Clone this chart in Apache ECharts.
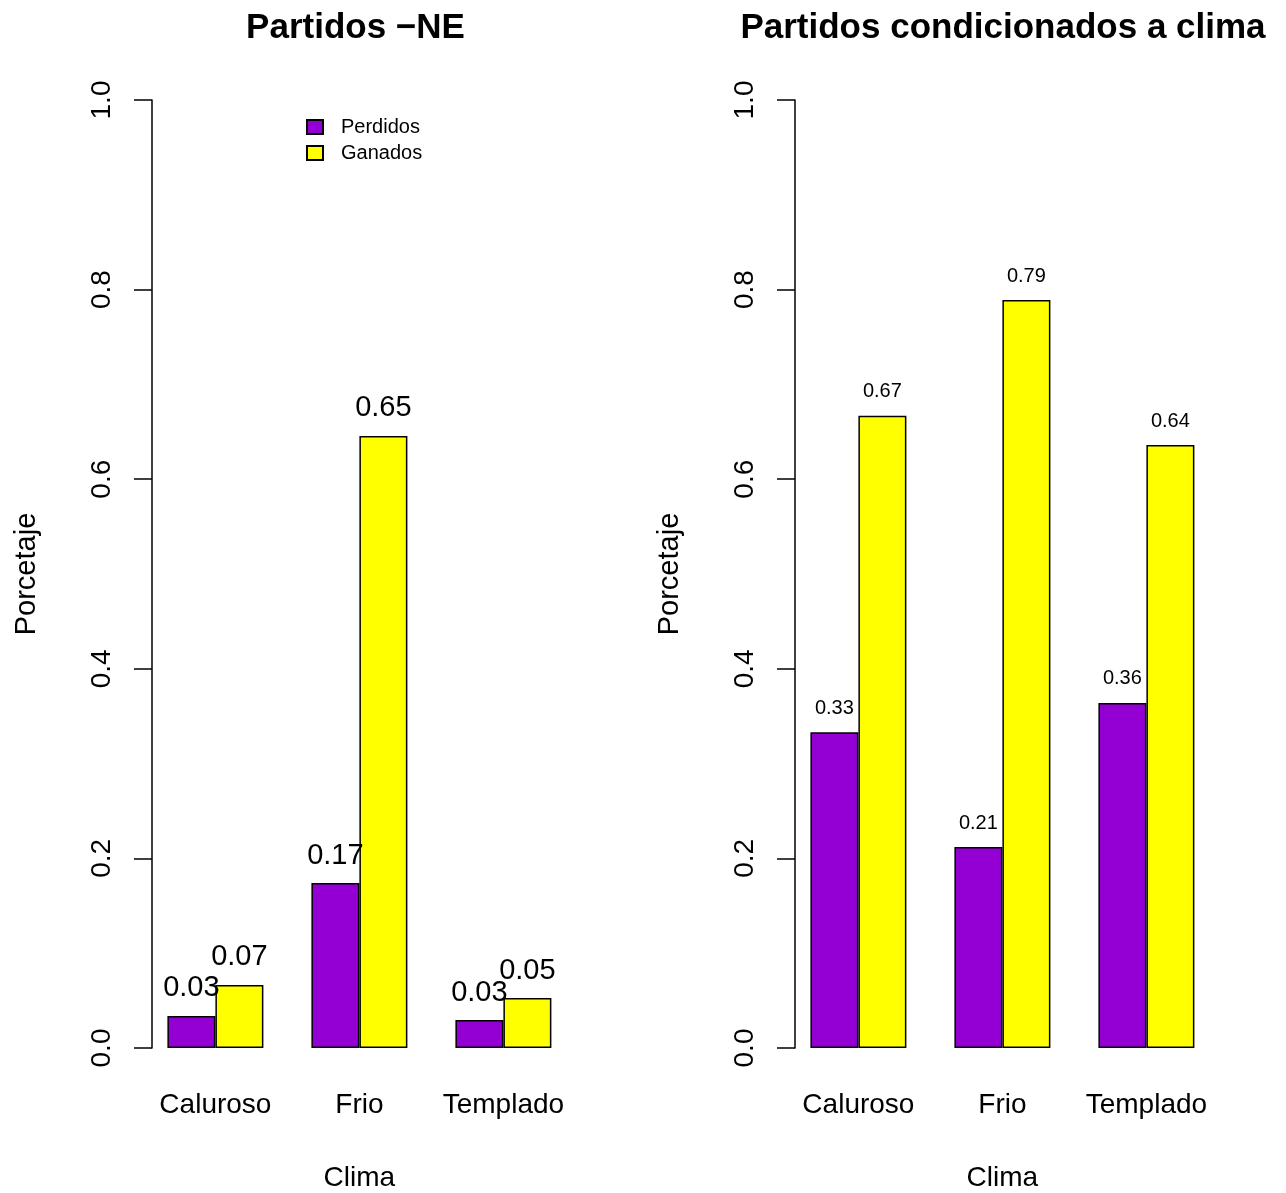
<!DOCTYPE html>
<html>
<head>
<meta charset="utf-8">
<script src="https://cdn.jsdelivr.net/npm/echarts@6/dist/echarts.min.js"></script>
<style>
html, body { margin: 0; padding: 0; background: #fff; }
#main { width: 1286px; height: 1193px; }
</style>
</head>
<body>
<div id="main"></div>
<script>
// datos
var climas = ['Caluroso', 'Frio', 'Templado'];
var perdidosNE = [0.0338, 0.174, 0.0295];
var ganadosNE = [0.0665, 0.6456, 0.0527];
var perdidosClima = [0.333, 0.212, 0.364];
var ganadosClima = [0.667, 0.789, 0.636];
var titulos = ['Partidos \u2212NE', 'Partidos condicionados a clima'];

var FONT = '"Liberation Sans", Arial, sans-serif';
var MORADO = '#9400D3';
var AMARILLO = '#FFFF00';

function ejeX(idx) {
    return {
        type: 'category', gridIndex: idx, data: climas,
        name: 'Clima', nameLocation: 'middle', nameGap: 116,
        nameTextStyle: { fontFamily: FONT, fontSize: 28, color: '#000' },
        axisLine: { show: false }, axisTick: { show: false },
        axisLabel: { interval: 0, margin: 43, fontFamily: FONT, fontSize: 28, color: '#000' }
    };
}

function ejeY(idx) {
    return {
        type: 'value', gridIndex: idx, min: 0, max: 1, interval: 0.2,
        offset: -8.6,
        name: 'Porcetaje', nameLocation: 'middle', nameGap: 111,
        nameTextStyle: { fontFamily: FONT, fontSize: 29, color: '#000' },
        axisLine: { show: true, lineStyle: { color: '#000', width: 1.5 } },
        axisTick: { show: true, length: 18, lineStyle: { color: '#000', width: 1.5 } },
        splitLine: { show: false },
        axisLabel: {
            rotate: 90, margin: 36, fontFamily: FONT, fontSize: 28, color: '#000',
            formatter: function(v) { return v.toFixed(1); }
        }
    };
}

function barra(nombre, datos, color, idx, fs) {
    return {
        type: 'bar', name: nombre, data: datos,
        xAxisIndex: idx, yAxisIndex: idx,
        barWidth: 48, barGap: '0%',
        itemStyle: { color: color, borderColor: '#000', borderWidth: 1.5 },
        label: {
            show: true, position: 'top', distance: fs > 25 ? 13 : 14,
            fontFamily: FONT, fontSize: fs, color: '#000',
            formatter: function(p) { return p.value.toFixed(2); }
        },
        animation: false
    };
}

var option = {
    animation: false,
    backgroundColor: '#fff',
    grid: [
        { left: 143.4, top: 100, width: 432, height: 948, outerBoundsMode: 'none', containLabel: false },
        { left: 786.4, top: 100, width: 432, height: 948, outerBoundsMode: 'none', containLabel: false }
    ],
    xAxis: [ejeX(0), ejeX(1)],
    yAxis: [ejeY(0), ejeY(1)],
    legend: {
        data: ['Perdidos', 'Ganados'],
        orient: 'vertical', left: 306, top: 117, padding: 0,
        icon: 'rect', itemWidth: 16, itemHeight: 14, itemGap: 6,
        selectedMode: false,
        textStyle: { fontFamily: FONT, fontSize: 20, lineHeight: 20, color: '#000', padding: [0, 0, 0, 13] }
    },
    graphic: [
        { type: 'text', x: 355.5, y: 28, style: {
            text: titulos[0], font: 'bold 35px ' + FONT, fill: '#000',
            align: 'center', verticalAlign: 'middle', textAlign: 'center', textVerticalAlign: 'middle' } },
        { type: 'text', x: 1003, y: 28, style: {
            text: titulos[1], font: 'bold 35px ' + FONT, fill: '#000',
            align: 'center', verticalAlign: 'middle', textAlign: 'center', textVerticalAlign: 'middle' } }
    ],
    series: [
        barra('Perdidos', perdidosNE, MORADO, 0, 29),
        barra('Ganados', ganadosNE, AMARILLO, 0, 29),
        barra('Perdidos', perdidosClima, MORADO, 1, 20),
        barra('Ganados', ganadosClima, AMARILLO, 1, 20)
    ]
};

var chart = echarts.init(document.getElementById('main'));
chart.setOption(option);
</script>
</body>
</html>
